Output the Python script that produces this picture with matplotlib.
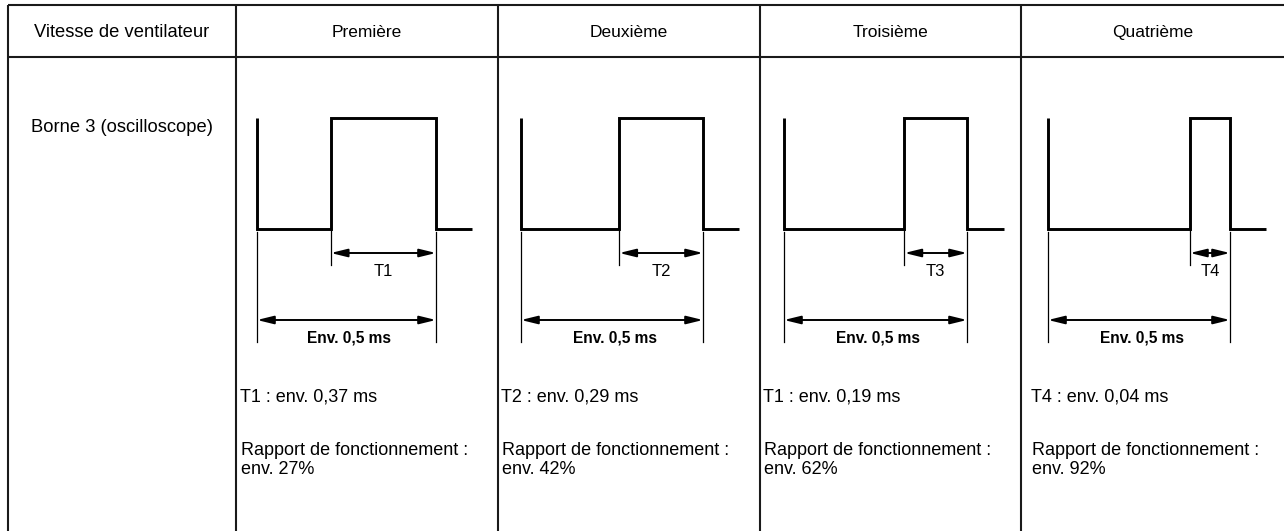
import matplotlib
matplotlib.use("Agg")
import matplotlib.pyplot as plt

plt.rcParams['font.family'] = ['Liberation Sans', 'DejaVu Sans']

# ---- data ----
header_label = "Vitesse de ventilateur"
row_label = "Borne 3 (oscilloscope)"
columns = ["Première", "Deuxième", "Troisième", "Quatrième"]
period_ms = 0.5
rise_ms = [0.206, 0.270, 0.329, 0.390]          # drawn rising-edge time within period
tail_ms = 0.10
t_labels = ["T1", "T2", "T3", "T4"]
period_label = "Env. 0,5 ms"
t_texts = ["T1 : env. 0,37 ms", "T2 : env. 0,29 ms", "T1 : env. 0,19 ms", "T4 : env. 0,04 ms"]
duty_title = "Rapport de fonctionnement :"
duty_texts = ["env. 27%", "env. 42%", "env. 62%", "env. 92%"]
HIGH, LOW = 1.0, 0.0

# ---- layout (pixels) ----
W, H = 1284, 531
fig = plt.figure(figsize=(W / 100, H / 100), dpi=100)
main = fig.add_axes([0, 0, 1, 1])
main.set_xlim(0, W)
main.set_ylim(H, 0)
main.axis("off")

col_edges = [8, 236, 498, 760, 1021, W]
top_y, head_y = 5, 57
line_c = "#1a1a1a"
main.plot([col_edges[0], W], [top_y, top_y], color=line_c, lw=1.5, solid_capstyle="butt")
main.plot([col_edges[0], W], [head_y, head_y], color=line_c, lw=1.5, solid_capstyle="butt")
for x in col_edges[:-1]:
    main.plot([x, x], [top_y, H], color=line_c, lw=1.5, solid_capstyle="butt")

fs = 12.5
main.text((col_edges[0] + col_edges[1]) / 2, 37, header_label, ha="center", va="baseline", fontsize=13.2)
main.text((col_edges[0] + col_edges[1]) / 2, 132, row_label, ha="center", va="baseline", fontsize=13.2)
for i, name in enumerate(columns):
    cx = (col_edges[i + 1] + col_edges[i + 2]) / 2
    main.text(cx, 37, name, ha="center", va="baseline", fontsize=fs)

text_x = [240, 501, 763, 1031]
fs2 = 13
for i in range(4):
    main.text(text_x[i], 401, t_texts[i], ha="left", va="baseline", fontsize=fs2)
    main.text(text_x[i] + 1, 455, duty_title, ha="left", va="baseline", fontsize=fs2)
    main.text(text_x[i] + 1, 474, duty_texts[i], ha="left", va="baseline", fontsize=fs2)

# ---- waveforms, one axes per column in ms units ----
wave_left_px = [257, 521, 784, 1048]
period_px = [179, 182, 183, 182]
y_low_px, y_high_px = 229, 118
ax_top_px, ax_bot_px = 100, 360
x_min, x_max = -0.1, 0.65

px_per_level = y_low_px - y_high_px
def lvl(ypx):
    return (y_low_px - ypx) / px_per_level

for i in range(4):
    ppm = period_px[i] / period_ms
    left = wave_left_px[i] + x_min * ppm
    width = (x_max - x_min) * ppm
    ax = fig.add_axes([left / W, 1 - ax_bot_px / H, width / W, (ax_bot_px - ax_top_px) / H])
    ax.set_xlim(x_min, x_max)
    ax.set_ylim(lvl(ax_bot_px), lvl(ax_top_px))
    ax.axis("off")
    r = rise_ms[i]
    xs = [0, 0, r, r, period_ms, period_ms, period_ms + tail_ms]
    ys = [HIGH, LOW, LOW, HIGH, HIGH, LOW, LOW]
    ax.plot(xs, ys, color="black", lw=2.1, solid_joinstyle="miter", solid_capstyle="butt")

    # ticks
    ax.plot([r, r], [LOW - 0.01, lvl(265)], color="black", lw=0.9)
    ax.plot([0, 0], [LOW - 0.03, lvl(342)], color="black", lw=0.9)
    ax.plot([period_ms, period_ms], [LOW - 0.03, lvl(342)], color="black", lw=0.9)

    arrow = dict(arrowstyle="<|-|>,head_length=0.9,head_width=0.22", mutation_scale=11,
                 lw=1.4, color="black", shrinkA=0, shrinkB=0)
    ax.annotate("", xy=(r, lvl(253)), xytext=(period_ms, lvl(253)), arrowprops=arrow)
    ax.annotate("", xy=(0, lvl(320)), xytext=(period_ms, lvl(320)), arrowprops=arrow)
    ax.text((r + period_ms) / 2, lvl(272), t_labels[i], ha="center", va="center", fontsize=12)
    ax.text(period_ms / 2 + 0.008, lvl(338), period_label, ha="center", va="center", fontsize=11.2,
            fontweight="bold")

fig.savefig("out.png", dpi=100)
